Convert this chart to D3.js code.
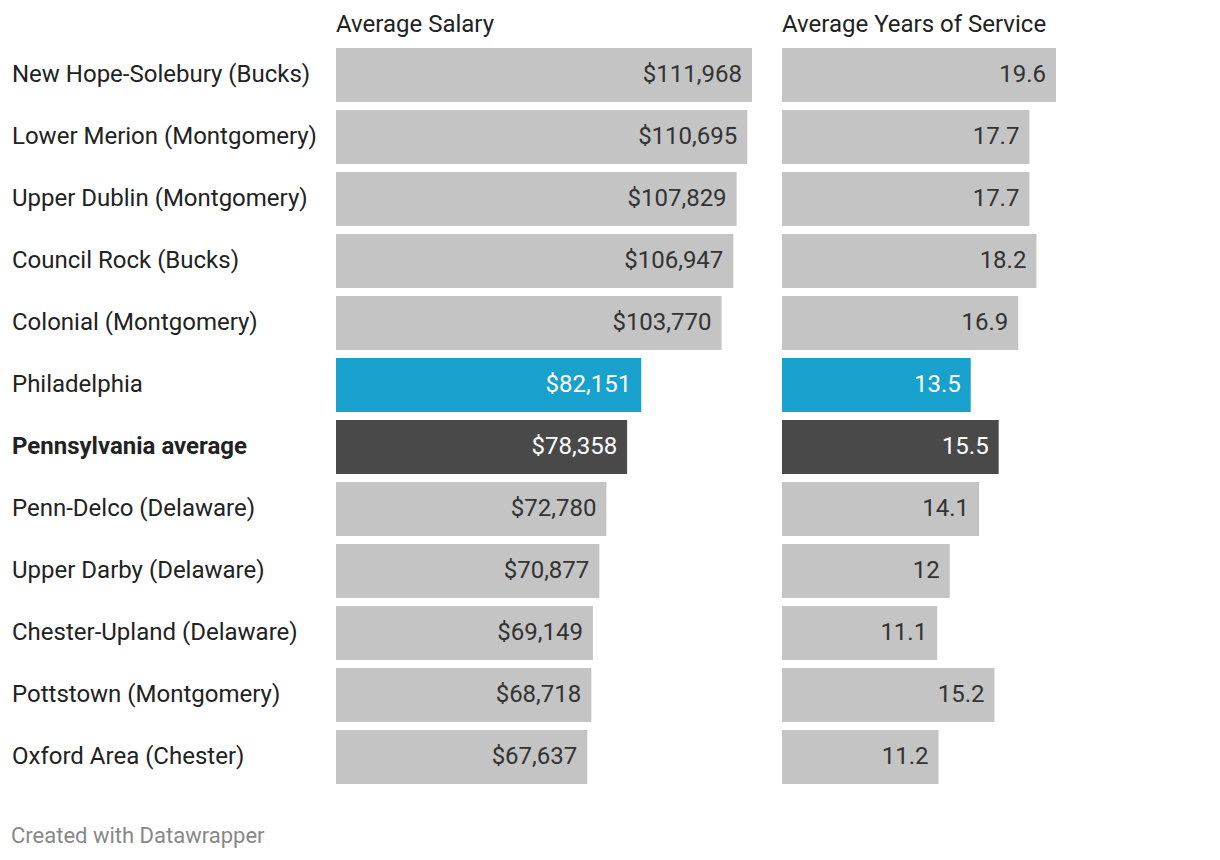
<!DOCTYPE html>
<html lang="en">
<head>
<meta charset="utf-8">
<title>Teacher salaries</title>
<script src="https://cdn.jsdelivr.net/npm/d3@7"></script>
<style>
  body { margin: 0; background: #fff; }
  svg text { font-family: Roboto, "Noto Sans", sans-serif; }
</style>
</head>
<body>
<script>
// data
var districts = [
  "New Hope-Solebury (Bucks)",
  "Lower Merion (Montgomery)",
  "Upper Dublin (Montgomery)",
  "Council Rock (Bucks)",
  "Colonial (Montgomery)",
  "Philadelphia",
  "Pennsylvania average",
  "Penn-Delco (Delaware)",
  "Upper Darby (Delaware)",
  "Chester-Upland (Delaware)",
  "Pottstown (Montgomery)",
  "Oxford Area (Chester)"
];
var salary = [111968, 110695, 107829, 106947, 103770, 82151, 78358, 72780, 70877, 69149, 68718, 67637];
var service = [19.6, 17.7, 17.7, 18.2, 16.9, 13.5, 15.5, 14.1, 12, 11.1, 15.2, 11.2];
var columnTitles = ["Average Salary", "Average Years of Service"];

var w = 1220, h = 860;
var rowTop = 48, rowStep = 62, barH = 54;
var fs = 24;

var svg = d3.select("body").append("svg")
  .attr("width", w)
  .attr("height", h);

// bands: step 62, bar 54
var y = d3.scaleBand()
  .domain(districts)
  .range([rowTop, rowTop + rowStep * districts.length - (rowStep - barH)])
  .paddingInner((rowStep - barH) / rowStep)
  .paddingOuter(0);

function fillFor(name) {
  if (name == "Philadelphia") return "#18a1cd";
  if (name == "Pennsylvania average") return "#494949";
  return "#c4c4c4";
}
function textFor(name) {
  if (name == "Philadelphia" || name == "Pennsylvania average") return "#ffffff";
  return "#333333";
}

// row labels
svg.append("g").selectAll("text")
  .data(districts)
  .enter()
  .append("text")
  .attr("x", 12)
  .attr("y", function(d){ return y(d) + y.bandwidth() / 2; })
  .attr("dy", "0.31em")
  .attr("font-size", fs)
  .attr("font-weight", function(d){ return d == "Pennsylvania average" ? "bold" : "normal"; })
  .attr("fill", "#222")
  .text(function(d){ return d; });

var columns = [
  { title: columnTitles[0], values: salary, x0: 336, x1: 752, fmt: function(v){ return "$" + d3.format(",")(v); } },
  { title: columnTitles[1], values: service, x0: 782, x1: 1056, fmt: function(v){ return String(v); } }
];

columns.forEach(function(col) {
  var x = d3.scaleLinear()
    .domain([0, d3.max(col.values)])
    .range([col.x0, col.x1]);

  var g = svg.append("g");

  g.append("text")
    .attr("x", col.x0)
    .attr("y", 32)
    .attr("font-size", fs)
    .attr("fill", "#222")
    .text(col.title);

  g.selectAll("rect")
    .data(districts)
    .enter()
    .append("rect")
    .attr("x", x(0))
    .attr("y", function(d){ return y(d); })
    .attr("width", function(d, i){ return x(col.values[i]) - x(0); })
    .attr("height", y.bandwidth())
    .attr("fill", fillFor);

  g.selectAll("text.val")
    .data(districts)
    .enter()
    .append("text")
    .attr("class", "val")
    .attr("x", function(d, i){ return x(col.values[i]) - 10; })
    .attr("y", function(d){ return y(d) + y.bandwidth() / 2; })
    .attr("dy", "0.31em")
    .attr("text-anchor", "end")
    .attr("font-size", fs)
    .attr("fill", textFor)
    .text(function(d, i){ return col.fmt(col.values[i]); });
});

svg.append("text")
  .attr("x", 11)
  .attr("y", 843)
  .attr("font-size", 22)
  .attr("fill", "#888")
  .text("Created with Datawrapper");
</script>
</body>
</html>
